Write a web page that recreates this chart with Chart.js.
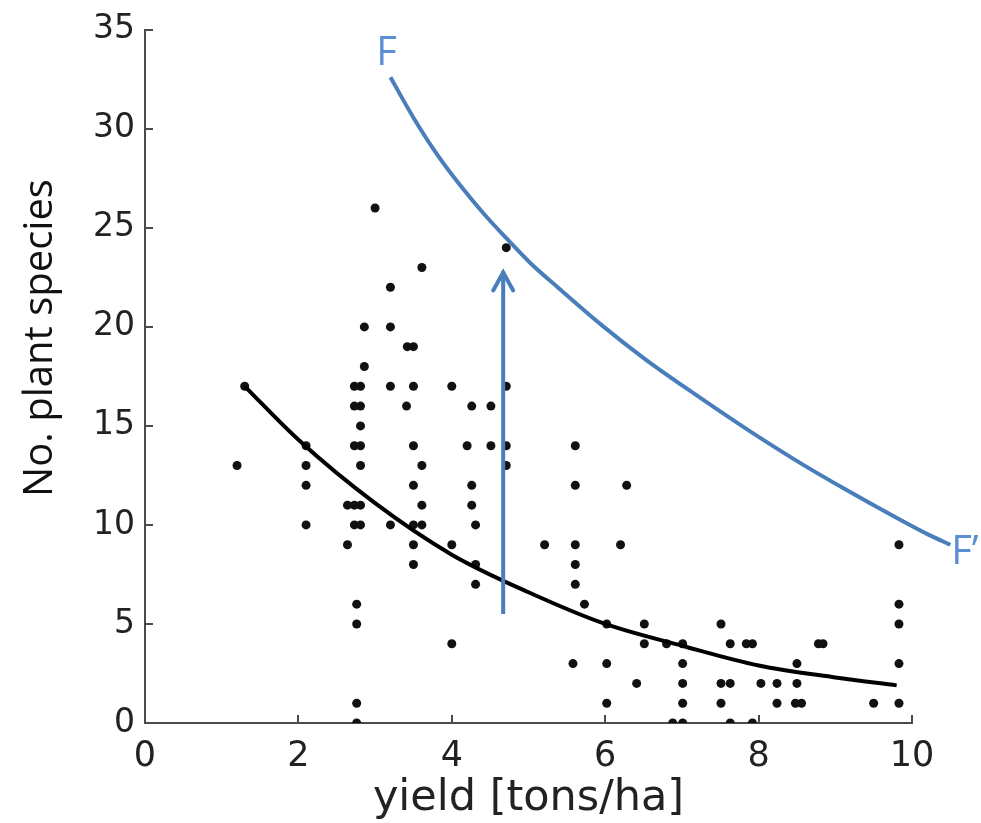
<!DOCTYPE html>
<html>
<head>
<meta charset="utf-8">
<script src="https://cdn.jsdelivr.net/npm/chart.js@4.4.1/dist/chart.umd.min.js"></script>
<style>
html,body{margin:0;padding:0;background:#ffffff;}
#wrap{width:981px;height:823px;position:relative;}
</style>
</head>
<body>
<div id="wrap"><canvas id="c" width="981" height="823"></canvas></div>
<script>
// ---- data ----
const xTickValues = [0, 2, 4, 6, 8, 10];
const yTickValues = [0, 5, 10, 15, 20, 25, 30, 35];
const xAxisTitle = 'yield [tons/ha]';
const yAxisTitle = 'No. plant species';

// observed sites (yield, number of plant species)
const siteYield = [
  1.2, 1.3,
  2.1, 2.1, 2.1, 2.1,
  2.64, 2.64,
  2.73, 2.73, 2.73, 2.73, 2.73,
  2.76, 2.76, 2.76, 2.76,
  2.81, 2.81, 2.81, 2.81, 2.81, 2.81, 2.81,
  2.86, 2.86,
  3.0,
  3.2, 3.2, 3.2, 3.2,
  3.42, 3.41,
  3.5, 3.5, 3.5, 3.5, 3.5, 3.5, 3.5,
  3.61, 3.61, 3.61, 3.61,
  4.0, 4.0, 4.0,
  4.2,
  4.26, 4.26, 4.26,
  4.31, 4.31, 4.31,
  4.51, 4.51,
  4.71, 4.71, 4.71, 4.71,
  5.21,
  5.58,
  5.61, 5.61, 5.61, 5.61, 5.61,
  5.73,
  6.02, 6.02, 6.02,
  6.2, 6.28, 6.41,
  6.51, 6.51,
  6.8, 6.88,
  7.01, 7.01, 7.01, 7.01, 7.01,
  7.51, 7.51, 7.51,
  7.63, 7.63, 7.63,
  7.84, 7.92, 7.92,
  8.03, 8.24, 8.24,
  8.5, 8.5, 8.48, 8.56,
  8.78, 8.84,
  9.5,
  9.83, 9.83, 9.83, 9.83, 9.83
];
const siteSpecies = [
  13, 17,
  14, 13, 12, 10,
  11, 9,
  17, 16, 14, 11, 10,
  6, 5, 1, 0,
  17, 16, 15, 14, 13, 11, 10,
  20, 18,
  26,
  22, 20, 17, 10,
  19, 16,
  19, 17, 14, 12, 10, 9, 8,
  23, 13, 11, 10,
  17, 9, 4,
  14,
  16, 12, 11,
  10, 8, 7,
  16, 14,
  24, 17, 14, 13,
  9,
  3,
  14, 12, 9, 8, 7,
  6,
  5, 3, 1,
  9, 12, 2,
  5, 4,
  4, 0,
  4, 3, 2, 1, 0,
  5, 2, 1,
  4, 2, 0,
  4, 4, 0,
  2, 2, 1,
  3, 2, 1, 1,
  4, 4,
  1,
  9, 6, 5, 3, 1
];

// black fitted curve
const fitYield   = [1.3, 2.0, 3.0, 4.0, 5.0, 6.0, 7.0, 8.0, 9.0, 9.8];
const fitSpecies = [17, 14.3, 11.1, 8.5, 6.6, 5.0, 3.9, 2.9, 2.3, 1.9];

// blue frontier F' -> F (listed from the F' end)
const frontierYield   = [10.5, 10.22, 9.78, 9.13, 8.47, 7.82, 7.17, 6.51, 5.95, 5.38, 5.03, 4.73, 4.42, 4.12, 3.81, 3.51, 3.2];
const frontierSpecies = [9.0, 9.5, 10.4, 11.8, 13.3, 14.9, 16.6, 18.4, 20.1, 22.0, 23.2, 24.4, 25.7, 27.1, 28.7, 30.5, 32.6];

// vertical arrow
const arrowYield = [4.67, 4.67];
const arrowSpecies = [5.5, 22.8];

// curve end labels
const labelText = ['F', 'F\u2019'];
const labelYield = [3.15, 10.69];
const labelSpecies = [33.8, 8.6];

// ---- build chart ----
const toXY = (xs, ys) => xs.map((v, i) => ({x: v, y: ys[i]}));
const lineBlue = '#4a7ebb';
const textBlue = '#5b8fd3';
const axisColor = '#4a4a4a';
const tickTextColor = '#222222';

const overlay = {
  id: 'overlay',
  afterDatasetsDraw(chart) {
    const {ctx, chartArea} = chart;
    const xs = chart.scales.x, ys = chart.scales.y;
    ctx.save();
    // inner tick marks
    ctx.strokeStyle = axisColor;
    ctx.lineWidth = 2;
    xTickValues.forEach(v => {
      const px = Math.round(xs.getPixelForValue(v));
      ctx.beginPath();
      ctx.moveTo(px, chartArea.bottom);
      ctx.lineTo(px, chartArea.bottom - 8);
      ctx.stroke();
    });
    yTickValues.forEach(v => {
      const py = Math.round(ys.getPixelForValue(v));
      ctx.beginPath();
      ctx.moveTo(chartArea.left, py);
      ctx.lineTo(chartArea.left + 8, py);
      ctx.stroke();
    });
    // arrow head
    const ax = xs.getPixelForValue(arrowYield[1]);
    const ay = ys.getPixelForValue(arrowSpecies[1]);
    ctx.strokeStyle = lineBlue;
    ctx.lineWidth = 4;
    ctx.lineCap = 'round';
    ctx.lineJoin = 'miter';
    ctx.beginPath();
    ctx.moveTo(ax - 10, ay + 19);
    ctx.lineTo(ax, ay + 1);
    ctx.lineTo(ax + 10, ay + 19);
    ctx.stroke();
    // F / F' labels
    ctx.fillStyle = textBlue;
    ctx.font = '40px "Open Sans"';
    ctx.textAlign = 'center';
    ctx.textBaseline = 'middle';
    labelText.forEach((t, i) => {
      ctx.fillText(t, xs.getPixelForValue(labelYield[i]), ys.getPixelForValue(labelSpecies[i]));
    });
    // y axis title
    ctx.fillStyle = '#111111';
    ctx.font = '40px "Open Sans"';
    ctx.translate(41, 338);
    ctx.rotate(-Math.PI / 2);
    ctx.textAlign = 'center';
    ctx.textBaseline = 'middle';
    ctx.fillText(yAxisTitle, 0, 0);
    ctx.restore();
  }
};

new Chart(document.getElementById('c'), {
  type: 'scatter',
  data: {
    datasets: [
      {
        label: 'sites',
        data: toXY(siteYield, siteSpecies),
        backgroundColor: '#111111',
        borderColor: '#111111',
        borderWidth: 0,
        pointRadius: 4.5,
        order: 3
      },
      {
        label: 'fit',
        type: 'line',
        data: toXY(fitYield, fitSpecies),
        borderColor: '#000000',
        borderWidth: 4,
        pointRadius: 0,
        fill: false,
        cubicInterpolationMode: 'monotone',
        order: 2
      },
      {
        label: 'frontier',
        type: 'line',
        data: toXY(frontierYield, frontierSpecies),
        borderColor: lineBlue,
        borderWidth: 4,
        pointRadius: 0,
        fill: false,
        cubicInterpolationMode: 'monotone',
        clip: false,
        order: 1
      },
      {
        label: 'arrow',
        type: 'line',
        data: toXY(arrowYield, arrowSpecies),
        borderColor: lineBlue,
        borderWidth: 4,
        pointRadius: 0,
        fill: false,
        clip: false,
        order: 0
      }
    ]
  },
  options: {
    responsive: false,
    animation: false,
    events: [],
    layout: { padding: { left: 83, right: 69, top: 24, bottom: 0 } },
    plugins: { legend: { display: false }, tooltip: { enabled: false } },
    scales: {
      x: {
        type: 'linear',
        min: 0, max: 10,
        afterBuildTicks: s => { s.ticks = xTickValues.map(v => ({value: v})); },
        grid: { display: false, drawTicks: false },
        border: { display: true, color: axisColor, width: 2 },
        ticks: { padding: 16, color: tickTextColor, font: { family: '"DejaVu Sans"', size: 35, lineHeight: 1.0 } },
        title: { display: true, text: xAxisTitle, color: tickTextColor, padding: {top: -12.5, bottom: 2.5},
                 font: { family: '"DejaVu Sans"', size: 43, lineHeight: 1.0 } }
      },
      y: {
        type: 'linear',
        min: 0, max: 35,
        afterBuildTicks: s => { s.ticks = yTickValues.map(v => ({value: v})); },
        grid: { display: false, drawTicks: false },
        border: { display: true, color: axisColor, width: 2 },
        ticks: { padding: 10, color: tickTextColor, font: { family: '"DejaVu Sans"', size: 33 } }
      }
    }
  },
  plugins: [overlay]
});
</script>
</body>
</html>
